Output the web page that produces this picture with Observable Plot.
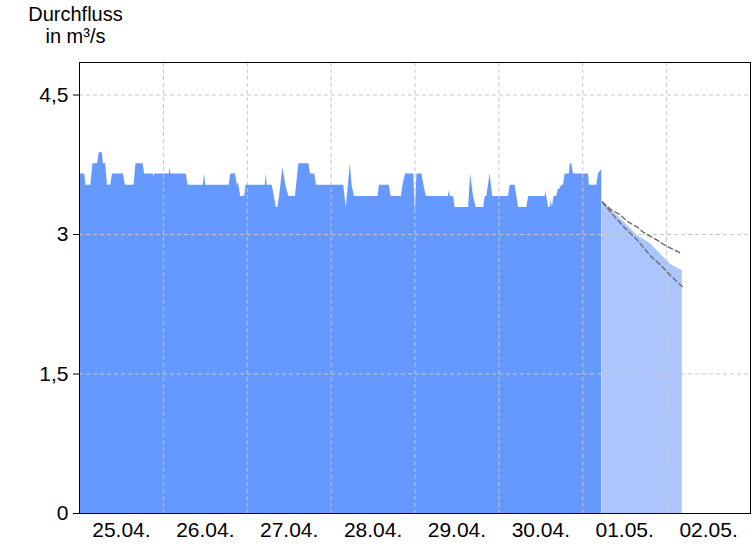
<!DOCTYPE html>
<html>
<head>
<meta charset="utf-8">
<script src="https://cdn.jsdelivr.net/npm/d3@7"></script>
<script src="https://cdn.jsdelivr.net/npm/@observablehq/plot@0.6"></script>
<style>
  html, body { margin: 0; padding: 0; background: #fff; }
  #wrap { position: relative; width: 756px; height: 546px; }
  #title { position: absolute; left: 0; top: 3px; width: 151px; text-align: center;
           font-family: "Liberation Sans", Arial, sans-serif; font-size: 20px; line-height: 22px; color: #000; }
</style>
</head>
<body>
<div id="wrap"><div id="title">Durchfluss<br>in m³/s</div></div>
<script>
// Start of the time axis: 25.04. 00:00 (hours below are offsets from it)
const startDate = Date.UTC(2024, 3, 25, 0, 0);
const endDate = Date.UTC(2024, 4, 3, 0, 0);

// Observed discharge (m³/s)
const obsHours = [0,1.5,1.85,3.25,3.85,5.15,5.65,6.55,6.85,7.5,8.0,8.95,9.45,12.55,13.15,15.6,16.15,18.2,18.65,21.15,21.35,21.5,25.7,25.9,26.15,30.55,31.05,35.45,35.8,36.15,42.85,43.25,44.65,45.15,45.5,46.1,47.25,47.65,53.15,53.45,53.7,55.15,56.3,56.75,57.25,58.2,59.05,59.9,61.8,62.75,65.65,66.1,67.35,67.8,75.6,76.35,77.5,78.0,78.65,85.45,85.8,88.65,89.15,92.1,92.55,93.3,95.65,96.1,96.55,98.0,98.55,99.25,105.55,105.8,106.15,107.05,107.5,111.35,111.9,112.75,113.5,115.65,116.1,116.55,117.5,118.2,122.75,123.25,124.65,125.15,125.65,128.0,128.5,133.25,133.45,134.2,134.7,135.0,135.3,135.8,136.55,137.05,137.5,138.0,138.5,138.95,140.2,140.4,140.85,141.35,145.65,145.9,148.0,148.5,149.45];
const obsValues = [3.65,3.65,3.53,3.53,3.76,3.76,3.88,3.88,3.76,3.76,3.53,3.53,3.65,3.65,3.53,3.53,3.76,3.76,3.65,3.65,3.61,3.65,3.65,3.72,3.65,3.65,3.53,3.53,3.65,3.53,3.53,3.65,3.65,3.53,3.56,3.41,3.41,3.53,3.53,3.65,3.53,3.53,3.29,3.29,3.41,3.72,3.53,3.41,3.41,3.76,3.76,3.65,3.65,3.53,3.53,3.29,3.76,3.53,3.41,3.41,3.53,3.53,3.41,3.41,3.53,3.65,3.65,3.24,3.65,3.65,3.53,3.41,3.41,3.47,3.41,3.41,3.29,3.29,3.65,3.41,3.29,3.29,3.41,3.41,3.65,3.41,3.41,3.53,3.53,3.41,3.29,3.29,3.41,3.41,3.47,3.29,3.29,3.37,3.29,3.41,3.41,3.49,3.49,3.53,3.53,3.65,3.65,3.76,3.76,3.65,3.65,3.53,3.53,3.65,3.70];

// Forecast (m³/s)
const fcHours = [149.6,154.9,159.6,163.4,169.1,172.5];
const fcValues = [3.35,3.17,2.99,2.90,2.68,2.61];
const upHours = [149.6,152.0,154.4,157.2,159.6,161.5,165.3,167.7,171.5,172.0];
const upValues = [3.35,3.27,3.22,3.13,3.08,3.02,2.94,2.88,2.81,2.79];
const loHours = [149.6,152.9,155.8,159.6,163.4,166.3,169.1,172.5];
const loValues = [3.35,3.20,3.08,2.94,2.77,2.67,2.56,2.44];

const yTicks = [0, 1.5, 3, 4.5];
const yGrid = [1.5, 3, 4.5];
const dayLabels = ["25.04.","26.04.","27.04.","28.04.","29.04.","30.04.","01.05.","02.05."];

const toRows = (hs, vs) => hs.map((h, i) => ({t: new Date(startDate + h * 3600e3), v: vs[i]}));
const obs = toRows(obsHours, obsValues);
const fc = toRows(fcHours, fcValues);
const up = toRows(upHours, upValues);
const lo = toRows(loHours, loValues);

const midnights = d3.range(1, 8).map(d => new Date(startDate + d * 86400e3));
const noons = dayLabels.map((_, i) => new Date(startDate + (i + 0.5) * 86400e3));
const labelOf = new Map(noons.map((d, i) => [+d, dayLabels[i]]));

const gridStyle = {stroke: "#c8c8c8", strokeOpacity: 1, strokeDasharray: "4,3", strokeWidth: 1};
const fcLineStyle = {x: "t", y: "v", stroke: "#666", strokeWidth: 1.3, strokeDasharray: "5,3"};

const chart = Plot.plot({
  width: 756, height: 546,
  marginLeft: 79, marginRight: 6, marginTop: 62, marginBottom: 33,
  style: {fontFamily: "'Liberation Sans', Arial, sans-serif", fontSize: "21px", color: "#000", background: "transparent"},
  x: {type: "utc", domain: [new Date(startDate), new Date(endDate)]},
  y: {domain: [0, 4.85]},
  marks: [
    Plot.areaY(fc, {x: "t", y: "v", fill: "#abc6ff"}),
    Plot.areaY(obs, {x: "t", y: "v", fill: "#6699ff"}),
    Plot.gridX(midnights, gridStyle),
    Plot.gridY(yGrid, gridStyle),
    Plot.lineY(up, fcLineStyle),
    Plot.lineY(lo, fcLineStyle),
    Plot.frame({stroke: "#000", strokeWidth: 1}),
    Plot.axisY(yTicks, {tickSize: 6, tickPadding: 5, label: null, stroke: "#000",
      tickFormat: d => String(d).replace(".", ",")}),
    Plot.axisX(noons, {tickSize: 0, tickPadding: 9, label: null, tickFormat: d => labelOf.get(+d)})
  ]
});
document.getElementById("wrap").prepend(chart);
chart.style.position = "absolute";
chart.style.left = "0";
chart.style.top = "0";
document.getElementById("title").style.zIndex = 2;
</script>
</body>
</html>
